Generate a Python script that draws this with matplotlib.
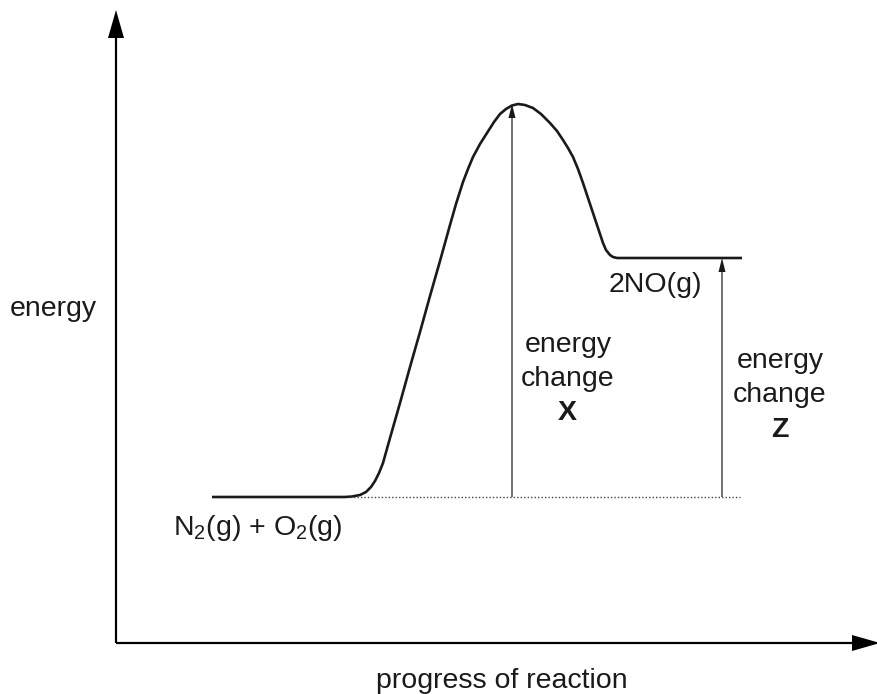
import matplotlib.pyplot as plt

# energy profile (x along reaction, y energy; picture units, y down)
curve_x = [212, 345, 352, 360, 366, 371, 375, 379, 383, 390, 400, 410, 420, 430,
           440, 445, 450, 456, 463, 468, 473, 480, 487, 494, 500, 506, 512, 518,
           525, 533, 541, 550, 557, 563, 568, 573, 578, 583, 588, 593, 598, 603,
           606, 610, 613, 617, 742]
curve_y = [497, 497, 496.5, 495, 492, 487, 481, 473, 463, 438, 403, 367, 332, 296,
           261, 243, 225, 204, 182, 169, 157, 144, 133, 122, 114, 109, 105.5, 104,
           105, 108, 114, 123, 131, 140, 148, 157, 169, 183, 198, 213, 228, 243,
           250, 255, 257, 258, 258]

reactant_level = 497
product_level = 258
peak_level = 104
x_arrow_pos = 512
z_arrow_pos = 722


def main():
    plt.rcParams['font.family'] = ['Liberation Sans', 'DejaVu Sans']
    plt.rcParams['mathtext.fontset'] = 'custom'
    plt.rcParams['mathtext.rm'] = 'Liberation Sans'
    plt.rcParams['mathtext.it'] = 'Liberation Sans:italic'
    fig = plt.figure(figsize=(8.77, 6.94), dpi=100)
    ax = fig.add_axes([0, 0, 1, 1])
    ax.set_xlim(0, 877)
    ax.set_ylim(694, 0)
    ax.axis('off')

    # axes with arrow heads
    ax.arrow(116, 643, 0, -633, width=2.2, head_width=16, head_length=28,
             length_includes_head=True, color='black', lw=0)
    ax.arrow(116, 643, 764, 0, width=2.2, head_width=16, head_length=28,
             length_includes_head=True, color='black', lw=0)

    ax.plot(curve_x, curve_y, color='#1a1a1a', lw=1.9, solid_capstyle='butt',
            solid_joinstyle='round')
    ax.plot([350, 740], [reactant_level, reactant_level], color='#444444',
            lw=1, ls=(0, (1, 1.5)))

    ax.arrow(x_arrow_pos, reactant_level, 0, peak_level - reactant_level,
             width=1.2, head_width=7, head_length=14,
             length_includes_head=True, color='#1a1a1a', lw=0)
    ax.arrow(z_arrow_pos, reactant_level, 0, product_level - reactant_level,
             width=1.2, head_width=7, head_length=14,
             length_includes_head=True, color='#1a1a1a', lw=0)

    fs = 20.5
    col = '#1a1a1a'
    kw = dict(fontsize=fs, color=col, va='baseline')
    ax.text(10, 316, 'energy', ha='left', **kw)
    ax.text(502, 688, 'progress of reaction', ha='center', **kw)
    ax.text(173, 535, r'N$_2$(g) + O$_2$(g)', ha='left', **kw)
    ax.text(609, 292, '2NO(g)', ha='left', **kw)

    ax.text(568, 352, 'energy', ha='center', **kw)
    ax.text(568, 386, 'change', ha='center', **kw)
    ax.text(567, 420, 'X', ha='center', fontweight='bold', **kw)
    ax.text(780, 368, 'energy', ha='center', **kw)
    ax.text(780, 402, 'change', ha='center', **kw)
    ax.text(780, 437, 'Z', ha='center', fontweight='bold', **kw)

    fig.savefig('out.png', dpi=100)


if __name__ == "__main__":
    main()
